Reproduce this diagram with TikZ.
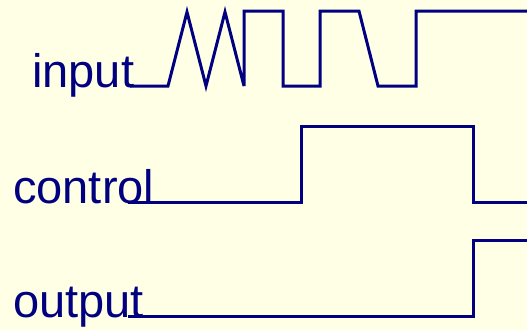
\documentclass[tikz,border=0pt]{standalone}
\usepackage{fontspec}
\setmainfont{Liberation Sans}
\usepackage{tikz}
\usetikzlibrary{positioning}
\definecolor{paper}{HTML}{FFFFE6}
\definecolor{wire}{HTML}{000080}

\begin{document}
\begin{tikzpicture}[
  x=1pt,y=-1pt,
  lbl/.style={anchor=base west,inner sep=0pt,text=wire,font=\fontsize{47}{50}\selectfont},
  wave/.style={draw=wire,line width=3pt,miter limit=6}
]
\fill[paper] (0,0) rectangle (527,330);
\useasboundingbox (0,0) rectangle (527,330);
\node[lbl] (in) at (32,87) {input};
\node[lbl] (ctl) at (13,203) {control};
\node[lbl] (out) at (13,317) {output};
% signal traces
\coordinate (in0) at (130,86);
\coordinate (ctl0) at (128,202);
\coordinate (out0) at (128,316);
\draw[wave] (in0) -- (168,86) -- (187,12) -- (206,86) -- (225,12) -- (244,86)
  -- (244,11) -- (283,11) -- (283,86) -- (320,86) -- (320,11) -- (359,11)
  -- (378,86) -- (416,86) -- (416,11) -- (527,11);
\draw[wave] (ctl0) -- (301,202) -- (301,126) -- (473,126) -- (473,202) -- (527,202);
\draw[wave] (out0) -- (473,316) -- (473,240) -- (527,240);
\end{tikzpicture}
\end{document}
